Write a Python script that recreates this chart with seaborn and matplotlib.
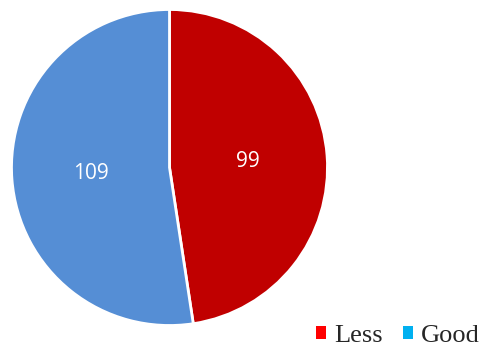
import matplotlib
matplotlib.use("Agg")
import matplotlib.pyplot as plt
import seaborn as sns
from matplotlib.patches import Patch

categories = ["Less", "Good"]
values = [99, 109]
slice_colors = ["#C00000", "#558ED5"]
legend_colors = ["#FF0000", "#00B0F0"]

sns.set_theme(style="white")
plt.rcParams["font.family"] = ["Open Sans", "DejaVu Sans"]

fig = plt.figure(figsize=(4.81, 3.47), dpi=100)
ax = fig.add_axes([(169.5 - 158) / 481, (347 - 167.5 - 158) / 347, 316 / 481, 316 / 347])
wedges, texts = ax.pie(
    values,
    colors=slice_colors,
    startangle=90,
    counterclock=False,
    labels=[str(v) for v in values],
    labeldistance=0.5,
    wedgeprops=dict(edgecolor="white", linewidth=2),
    textprops=dict(color="white", fontsize=15),
)
for t in texts:
    t.set_ha("center")
    t.set_va("center")
ax.set_xlim(-1.0, 1.0)
ax.set_ylim(-1.0, 1.0)
ax.set_aspect("auto")
ax.axis("off")

handles = [Patch(facecolor=c, edgecolor="none") for c in legend_colors]
fig.legend(
    handles, categories,
    loc="center right",
    bbox_to_anchor=(480 / 481, 1 - 336 / 347),
    ncol=2, frameon=False,
    prop=dict(family="Liberation Serif", size=19),
    handlelength=0.4, handleheight=0.4,
    handletextpad=0.3, columnspacing=0.75,
    borderaxespad=0, borderpad=0,
)

fig.savefig("out.png", dpi=100, facecolor="white")
